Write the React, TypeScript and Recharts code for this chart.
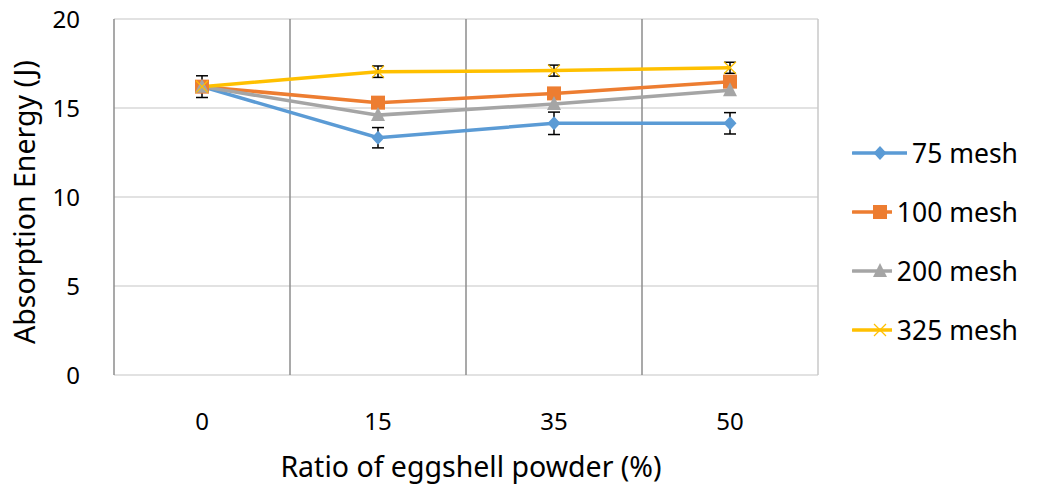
import { CartesianGrid, ErrorBar, Legend, Line, LineChart, XAxis, YAxis } from 'recharts'

const ratios = ['0', '15', '35', '50']
const mesh75 = [16.2, 13.33, 14.14, 14.14]
const mesh100 = [16.2, 15.3, 15.82, 16.48]
const mesh200 = [16.2, 14.6, 15.22, 16.0]
const mesh325 = [16.2, 17.04, 17.1, 17.26]
const err75 = [0.61, 0.57, 0.63, 0.6]
const err325 = [0.3, 0.32, 0.31, 0.31]
const yTicks = [0, 5, 10, 15, 20]

const data = ratios.map((ratio, i) => ({
  ratio,
  m75: mesh75[i],
  m100: mesh100[i],
  m200: mesh200[i],
  m325: mesh325[i],
  e75: err75[i],
  e325: err325[i],
}))

type Shape = 'diamond' | 'square' | 'triangle' | 'cross'

const series: { key: string; name: string; color: string; shape: Shape }[] = [
  { key: 'm75', name: '75 mesh', color: '#5B9BD5', shape: 'diamond' },
  { key: 'm100', name: '100 mesh', color: '#ED7D31', shape: 'square' },
  { key: 'm200', name: '200 mesh', color: '#A5A5A5', shape: 'triangle' },
  { key: 'm325', name: '325 mesh', color: '#FFC000', shape: 'cross' },
]

const FONT = '"Noto Sans", sans-serif'

function Marker({ cx, cy, shape, color }: { cx: number; cy: number; shape: Shape; color: string }) {
  if (shape === 'diamond')
    return <polygon points={`${cx},${cy - 7} ${cx + 6.5},${cy} ${cx},${cy + 7} ${cx - 6.5},${cy}`} fill={color} />
  if (shape === 'square') return <rect x={cx - 7} y={cy - 7} width={14} height={14} fill={color} />
  if (shape === 'triangle')
    return <polygon points={`${cx},${cy - 8} ${cx + 7},${cy + 6} ${cx - 7},${cy + 6}`} fill={color} />
  return (
    <g stroke={color} strokeWidth={1.3}>
      <line x1={cx - 6} y1={cy - 6} x2={cx + 6} y2={cy + 6} />
      <line x1={cx - 6} y1={cy + 6} x2={cx + 6} y2={cy - 6} />
    </g>
  )
}

const dotFor = (shape: Shape, color: string) => (p: any) => (
  <g key={`${shape}-${p.index}`}>
    <Marker cx={p.cx} cy={p.cy} shape={shape} color={color} />
  </g>
)

function LegendBox() {
  return (
    <div style={{ width: 200, paddingLeft: 34, boxSizing: 'border-box', fontFamily: FONT }}>
      {series.map((s) => (
        <div key={s.key} style={{ height: 59, display: 'flex', alignItems: 'center' }}>
          <svg width={56} height={20} style={{ marginRight: 5 }}>
            <line x1={1} y1={10} x2={55} y2={10} stroke={s.color} strokeWidth={3.5} strokeLinecap="round" />
            <Marker cx={28} cy={10} shape={s.shape} color={s.color} />
          </svg>
          <span style={{ fontSize: 26.5, color: '#000', whiteSpace: 'nowrap' }}>{s.name}</span>
        </div>
      ))}
    </div>
  )
}

// axis titles drawn by hand so the rotated one can sit close to the edge
function YTitle({ viewBox }: any) {
  const cx = viewBox.x + 27
  const cy = viewBox.y + viewBox.height / 2 + 5
  return (
    <text
      x={cx}
      y={cy}
      transform={`rotate(-90, ${cx}, ${cy})`}
      textAnchor="middle"
      fontSize={28.5}
      fontFamily={FONT}
      fill="#000"
    >
      Absorption Energy (J)
    </text>
  )
}

function XTitle({ viewBox }: any) {
  const cx = viewBox.x + viewBox.width / 2 + 5
  const cy = viewBox.y + 102
  return (
    <text x={cx} y={cy} textAnchor="middle" fontSize={28.5} fontFamily={FONT} fill="#000">
      Ratio of eggshell powder (%)
    </text>
  )
}

export default function App() {
  return (
    <div style={{ margin: '-8px 0 0 -8px', width: 1042, height: 485 }}>
      <LineChart
        width={1042}
        height={485}
        data={data}
        margin={{ top: 19, right: 24, left: 8, bottom: 10 }}
        style={{ fontFamily: FONT }}
      >
        <CartesianGrid stroke="#d9d9d9" strokeWidth={1.5} vertical={false} />
        <CartesianGrid
          stroke="#8c8c8c"
          strokeWidth={1.5}
          horizontal={false}
          verticalCoordinatesGenerator={({ offset }: any) =>
            ratios.map((_, i) => offset.left + (i * offset.width) / ratios.length)
          }
        />
        <CartesianGrid
          stroke="#c8c8c8"
          strokeWidth={1.5}
          horizontal={false}
          verticalCoordinatesGenerator={({ offset }: any) => [offset.left + offset.width]}
        />
        <XAxis
          dataKey="ratio"
          axisLine={false}
          tickLine={false}
          tickSize={0}
          tickMargin={38}
          height={100}
          padding={{ left: 88, right: 88 }}
          tick={{ fontSize: 24, fill: '#000', fontFamily: FONT }}
          label={<XTitle />}
        />
        <YAxis
          domain={[0, 20]}
          ticks={yTicks}
          width={106}
          axisLine={false}
          tickLine={false}
          tickSize={0}
          tickMargin={34}
          tick={{ fontSize: 24, fill: '#000', fontFamily: FONT }}
          label={<YTitle />}
        />
        <Legend
          layout="vertical"
          align="right"
          verticalAlign="middle"
          content={() => <LegendBox />}
          wrapperStyle={{ top: 123 }}
        />
        {series.map((s) => (
          <Line
            key={s.key}
            dataKey={s.key}
            name={s.name}
            stroke={s.color}
            strokeWidth={3.5}
            dot={dotFor(s.shape, s.color)}
            activeDot={false}
            isAnimationActive={false}
          >
            {s.key === 'm75' && (
              <ErrorBar dataKey="e75" width={6} stroke="#000" strokeWidth={1.5} direction="y" isAnimationActive={false} />
            )}
            {s.key === 'm325' && (
              <ErrorBar dataKey="e325" width={6} stroke="#000" strokeWidth={1.5} direction="y" isAnimationActive={false} />
            )}
          </Line>
        ))}
      </LineChart>
    </div>
  )
}
